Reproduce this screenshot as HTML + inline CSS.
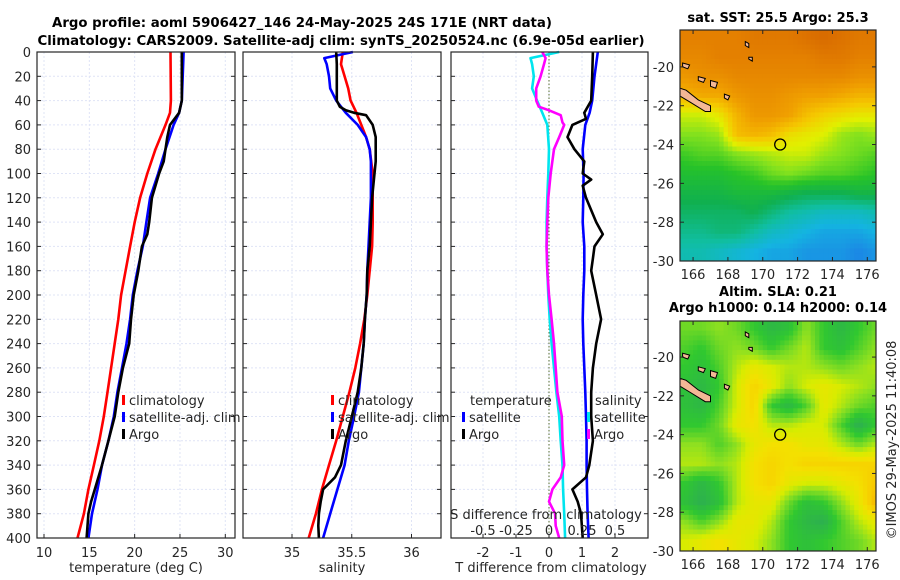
<!DOCTYPE html>
<html><head><meta charset="utf-8"><style>
body{margin:0;background:#fff;}
svg{display:block;font-family:"DejaVu Sans","Liberation Sans",sans-serif;}
</style></head><body>
<svg id="fig" width="900" height="580" viewBox="0 0 900 580" xmlns="http://www.w3.org/2000/svg">
<rect width="900" height="580" fill="#fff"/>
<text x="302" y="27" text-anchor="middle" font-size="13.3" font-weight="bold">Argo profile: aoml 5906427_146 24-May-2025 24S 171E (NRT data)</text>
<text x="341" y="45" text-anchor="middle" font-size="13.3" font-weight="bold">Climatology: CARS2009. Satellite-adj clim: synTS_20250524.nc (6.9e-05d earlier)</text>
<text x="778" y="22" text-anchor="middle" font-size="13" font-weight="bold">sat. SST: 25.5 Argo: 25.3</text>
<text x="778" y="296" text-anchor="middle" font-size="13" font-weight="bold">Altim. SLA: 0.21</text>
<text x="778" y="312" text-anchor="middle" font-size="13" font-weight="bold">Argo h1000: 0.14 h2000: 0.14</text>
<text transform="translate(896,440) rotate(-90)" text-anchor="middle" font-size="13" fill="#262626">©IMOS 29-May-2025 11:40:08</text>
<g id="g"></g>
</svg>
<script>
// ---- profile data (depth in m) ----
const depthClim=[0,40,50,60,80,100,120,140,160,180,200,220,240,260,280,300,320,340,360,380,400];
const tempClim=[23.96,24.0,23.9,23.4,22.3,21.4,20.6,20.0,19.5,19.0,18.5,18.2,17.8,17.4,17.0,16.6,16.1,15.5,14.9,14.4,13.7];
const depthSat=[0,40,50,60,80,100,120,140,160,180,200,220,240,260,280,300,320,340,360,380,400];
const tempSat=[25.4,25.2,24.9,24.3,23.4,22.6,21.7,21.3,20.9,20.3,19.8,19.5,19.1,18.6,18.1,17.7,17.1,16.4,15.9,15.3,14.9];
const depthArgo=[0,40,50,60,70,80,90,100,120,140,150,160,180,200,220,240,260,280,300,320,340,360,370,380,400];
const tempArgo=[25.2,25.2,24.9,23.9,23.6,23.4,23.2,22.7,21.9,21.6,21.4,20.8,20.4,19.9,19.6,19.4,18.7,18.2,17.8,17.1,16.4,15.6,15.2,14.9,14.7];
const depthSC=[0,10,20,30,40,50,60,70,80,100,120,140,160,180,200,220,240,260,280,300,320,340,360,380,400];
const salClim=[35.425,35.41,35.44,35.47,35.49,35.54,35.58,35.62,35.65,35.675,35.675,35.675,35.67,35.65,35.63,35.605,35.57,35.53,35.48,35.425,35.37,35.31,35.25,35.2,35.14];
const depthSS=[0,5,10,20,30,40,50,60,70,80,90,100,120,140,160,180,200,220,240,260,280,300,320,340,360,380,400];
const salSat=[35.51,35.27,35.29,35.31,35.32,35.37,35.45,35.55,35.62,35.65,35.66,35.66,35.66,35.65,35.64,35.63,35.625,35.61,35.6,35.58,35.56,35.52,35.475,35.44,35.38,35.32,35.26];
const depthSA=[0,10,40,45,48,50,52,60,70,80,90,100,120,140,160,180,200,220,240,260,280,300,320,340,350,360,370,380,390,400];
const salArgo=[35.37,35.375,35.375,35.4,35.45,35.52,35.62,35.675,35.7,35.7,35.7,35.69,35.67,35.66,35.65,35.63,35.625,35.61,35.6,35.58,35.55,35.5,35.45,35.41,35.36,35.26,35.24,35.225,35.22,35.225];
const depthD=[0,20,40,50,55,60,70,80,90,100,105,110,120,140,150,160,170,180,200,220,240,260,280,300,320,340,350,360,370,380,400];
const tdiffArgo=[1.33,1.31,1.28,1.07,1.12,0.71,0.56,0.77,1.07,1.02,1.28,1.02,1.12,1.43,1.63,1.38,1.33,1.28,1.43,1.58,1.43,1.33,1.28,1.28,1.33,1.22,1.12,0.71,0.87,0.97,1.02];
const depthTS=[0,20,40,50,60,80,100,120,140,160,180,200,220,240,260,280,300,320,340,360,380,400];
const tdiffSat=[1.48,1.38,1.31,1.23,1.1,1.02,1.05,1.04,1.02,1.07,1.07,1.04,1.02,1.04,1.07,1.1,1.12,1.14,1.14,1.15,1.17,1.2];
const depthSDS=[0,5,10,20,30,40,50,60,80,100,120,140,160,180,200,220,240,260,280,300,320,340,360,380,400];
const sdiffSat=[0.077,-0.14,-0.128,-0.115,-0.128,-0.09,-0.051,-0.013,0,-0.005,-0.013,-0.018,-0.018,-0.013,-0.005,0.005,0.02,0.038,0.056,0.077,0.089,0.102,0.107,0.115,0.122];
const depthSDA=[0,5,10,20,30,40,45,48,52,58,60,70,80,100,120,140,160,180,200,220,240,260,280,300,320,340,350,360,370,380,390,400];
const sdiffArgo=[-0.051,-0.026,-0.038,-0.064,-0.097,-0.097,-0.077,0,0.089,0.102,0.115,0.077,0.038,0.013,-0.005,-0.013,-0.018,-0.013,0,0.02,0.038,0.051,0.064,0.097,0.102,0.115,0.089,0.026,0,0.046,0.051,0.077];
// ---- map data: rows lat -18.5..-29.5, cols lon 165.5..176.5 ----
const mapLons=[165.5,166.5,167.5,168.5,169.5,170.5,171.5,172.5,173.5,174.5,175.5,176.5];
const mapLats=[-18.5,-19.5,-20.5,-21.5,-22.5,-23.5,-24.5,-25.5,-26.5,-27.5,-28.5,-29.5];
const sstGrid=[
[26.6,26.6,26.6,26.6,26.7,26.7,26.7,26.8,26.9,26.8,26.7,26.7],
[26.5,26.5,26.6,26.6,26.6,26.6,26.6,26.6,26.7,26.7,26.6,26.6],
[26.3,26.4,26.4,26.5,26.5,26.5,26.5,26.5,26.5,26.5,26.4,26.4],
[26.0,26.1,26.1,26.3,26.4,26.4,26.3,26.2,26.2,26.1,26.0,26.0],
[25.3,25.3,25.5,26.0,26.3,26.3,26.2,25.9,25.7,25.6,25.5,25.5],
[25.0,25.0,25.1,25.9,26.0,25.9,25.6,25.5,25.4,25.1,25.0,25.1],
[24.7,24.8,24.8,25.0,25.1,25.2,25.3,25.3,25.1,25.0,24.9,24.8],
[24.5,24.5,24.5,24.6,24.7,24.9,25.0,24.9,24.8,24.8,24.7,24.6],
[24.3,24.3,24.3,24.4,24.4,24.4,24.3,24.2,24.2,24.2,24.3,24.3],
[24.1,24.1,24.1,24.1,24.2,24.0,23.8,23.7,23.6,23.6,23.6,23.7],
[23.9,23.9,24.0,24.0,23.8,23.6,23.5,23.4,23.3,23.3,23.3,23.4],
[23.7,23.7,23.6,23.5,23.4,23.3,23.3,23.2,23.2,23.2,23.1,23.2]];
const slaGrid=[
[0.4,0.4,0.45,0.4,0.3,0.2,0.25,0.45,0.3,0.2,0.3,0.4],
[0.35,0.3,0.4,0.45,0.4,0.3,0.4,0.5,0.3,0.25,0.35,0.45],
[0.3,0.25,0.35,0.5,0.6,0.55,0.5,0.5,0.45,0.4,0.45,0.5],
[0.25,0.2,0.3,0.55,0.7,0.6,0.45,0.55,0.6,0.55,0.5,0.45],
[0.25,0.2,0.35,0.55,0.7,0.3,0.2,0.35,0.6,0.5,0.4,0.35],
[0.3,0.3,0.4,0.6,0.65,0.5,0.5,0.55,0.55,0.35,0.15,0.3],
[0.45,0.45,0.35,0.45,0.6,0.65,0.65,0.6,0.6,0.5,0.4,0.5],
[0.5,0.5,0.45,0.5,0.65,0.7,0.65,0.7,0.7,0.7,0.7,0.7],
[0.3,0.2,0.3,0.5,0.65,0.7,0.6,0.55,0.55,0.6,0.65,0.75],
[0.25,0.15,0.25,0.5,0.6,0.6,0.4,0.25,0.3,0.45,0.6,0.8],
[0.45,0.35,0.45,0.6,0.6,0.5,0.3,0.2,0.15,0.35,0.5,0.6],
[0.55,0.6,0.65,0.6,0.55,0.45,0.3,0.25,0.3,0.35,0.4,0.5]];
const depthTicks=[0,20,40,60,80,100,120,140,160,180,200,220,240,260,280,300,320,340,360,380,400];
const tempTicks=[10,15,20,25,30];
const salTicks=[35,35.5,36];
const tdTicks=[-2,-1,0,1,2];
const sdTicks=[-0.5,-0.25,0,0.25,0.5];
const sdTickLabels=["-0.5","-0.25","0","0.25","0.5"];
const lonTicks=[166,168,170,172,174,176];
const latTicks=[-20,-22,-24,-26,-28,-30];

const NS="http://www.w3.org/2000/svg";
const G=document.getElementById('g');
function mk(tag,attrs,parent){const e=document.createElementNS(NS,tag);for(const k in attrs)e.setAttribute(k,attrs[k]);(parent||G).appendChild(e);return e;}
const Y0=52,Y1=538;
const yD=d=>Y0+(d/400)*(Y1-Y0);
const xT=t=>44+(t-10)*(225.3-44)/20;
const xS=s=>292+(s-35)*119.5;
const xTD=v=>549+v*33;
const xSD=v=>549+v*4*33;
const panels=[{x0:37,x1:235,name:'temperature-panel'},{x0:243,x1:441,name:'salinity-panel'},{x0:451,x1:648,name:'difference-panel'}];
const GRIDC='#dfe4f6';
function grid(p,xs,fn){
  xs.forEach(v=>{const l=mk('line',{x1:fn(v),x2:fn(v),y1:Y0,y2:Y1,stroke:GRIDC,'stroke-width':1,'stroke-dasharray':'2,2'});
  
  });
  depthTicks.forEach(d=>{const l=mk('line',{x1:p.x0,x2:p.x1,y1:yD(d),y2:yD(d),stroke:GRIDC,'stroke-width':1,'stroke-dasharray':'2,2'});
  
  
  mk('line',{x1:p.x0,x2:p.x0+4,y1:yD(d),y2:yD(d),stroke:'#262626'});
  mk('line',{x1:p.x1-4,x2:p.x1,y1:yD(d),y2:yD(d),stroke:'#262626'});});
}
function box(p){const r=mk('rect',{x:p.x0,y:Y0,width:p.x1-p.x0,height:Y1-Y0,fill:'none',stroke:'#262626','stroke-width':1.2});
  
  }
function line(ds,vs,fx,color,name){
  const pts=ds.map((d,i)=>fx(vs[i]).toFixed(1)+','+yD(d).toFixed(1)).join(' ');
  const e=mk('polyline',{points:pts,fill:'none',stroke:color,'stroke-width':2.6,'stroke-linejoin':'round'});
  
  }
function txt(x,y,s,attrs,name){const e=mk('text',Object.assign({x:x,y:y,'font-size':13,fill:'#262626'},attrs||{}));e.textContent=s;
  
  return e;}

// panel 1
grid(panels[0],tempTicks,xT);
depthTicks.forEach(d=>txt(31,yD(d)+5,String(d),{'text-anchor':'end'},'depth-tick-label'));
tempTicks.forEach(t=>{txt(xT(t),557,String(t),{'text-anchor':'middle'},'temperature-tick-label');mk('line',{x1:xT(t),x2:xT(t),y1:Y1,y2:Y1-4,stroke:'#262626'});});
txt(136,572,'temperature (deg C)',{'text-anchor':'middle'},'temperature-axis-title');
line(depthClim,tempClim,xT,'#ff0000','temp-climatology-line');
line(depthSat,tempSat,xT,'#0000ff','temp-satellite-line');
line(depthArgo,tempArgo,xT,'#000000','temp-argo-line');
box(panels[0]);
// panel 2
grid(panels[1],salTicks,xS);
salTicks.forEach(t=>{txt(xS(t),557,String(t),{'text-anchor':'middle'},'salinity-tick-label');mk('line',{x1:xS(t),x2:xS(t),y1:Y1,y2:Y1-4,stroke:'#262626'});});
txt(342,572,'salinity',{'text-anchor':'middle'},'salinity-axis-title');
line(depthSC,salClim,xS,'#ff0000','sal-climatology-line');
line(depthSS,salSat,xS,'#0000ff','sal-satellite-line');
line(depthSA,salArgo,xS,'#000000','sal-argo-line');
box(panels[1]);
// panel 3
grid(panels[2],tdTicks,xTD);
mk('line',{x1:549,x2:549,y1:Y0,y2:Y1,stroke:'#556b2f','stroke-width':1,'stroke-dasharray':'1.5,2'});
tdTicks.forEach(t=>{txt(xTD(t),557,String(t),{'text-anchor':'middle'},'tdiff-tick-label');mk('line',{x1:xTD(t),x2:xTD(t),y1:Y1,y2:Y1-4,stroke:'#262626'});});
txt(551,572,'T difference from climatology',{'text-anchor':'middle'},'tdiff-axis-title');
line(depthSDS,sdiffSat,xSD,'#00e5ee','sdiff-satellite-line');
line(depthSDA,sdiffArgo,xSD,'#ff00ff','sdiff-argo-line');
line(depthTS,tdiffSat,xTD,'#0000ff','tdiff-satellite-line');
line(depthD,tdiffArgo,xTD,'#000000','tdiff-argo-line');
txt(546,519,'S difference from climatology',{'text-anchor':'middle'},'sdiff-axis-title');
sdTicks.forEach((t,i)=>txt(xSD(t),535,sdTickLabels[i],{'text-anchor':'middle'},'sdiff-tick-label'));
box(panels[2]);

// legends
function legend(x,y,color,label,name){
  const r=mk('rect',{x:x,y:y-10,width:3,height:10,fill:color});
  
  
  txt(x+7,y,label,{},name);}
legend(122,405,'#ff0000','climatology','legend-climatology');
legend(122,422,'#0000ff','satellite-adj. clim','legend-satellite-adj');
legend(122,439,'#000000','Argo','legend-argo');
legend(331,405,'#ff0000','climatology','legend2-climatology');
legend(331,422,'#0000ff','satellite-adj. clim','legend2-satellite-adj');
legend(331,439,'#000000','Argo','legend2-argo');
txt(470,405,'temperature',{},'legend-temperature-header');
legend(462,422,'#0000ff','satellite','legend-t-satellite');
legend(462,439,'#000000','Argo','legend-t-argo');
txt(595,405,'salinity',{},'legend-salinity-header');
legend(587,422,'#00e5ee','satellite','legend-s-satellite');
legend(587,439,'#ff00ff','Argo','legend-s-argo');

// maps
const sstStops=[[23.0,[30,120,230]],[23.4,[20,180,225]],[23.8,[16,190,160]],[24.2,[16,176,80]],[24.6,[40,195,40]],[25.0,[130,225,30]],[25.4,[225,240,0]],[25.8,[245,200,0]],[26.2,[240,160,0]],[26.6,[228,128,0]],[27.0,[212,100,0]]];
const slaStops=[[0.1,[44,168,90]],[0.3,[48,200,48]],[0.45,[142,224,32]],[0.55,[216,236,0]],[0.65,[244,224,0]],[0.75,[248,200,0]],[0.85,[244,160,0]]];
function cmap(stops,v){if(v<=stops[0][0])return stops[0][1];for(let i=1;i<stops.length;i++){if(v<=stops[i][0]){const a=stops[i-1],b=stops[i],f=(v-a[0])/(b[0]-a[0]);return a[1].map((c,j)=>Math.round(c+(b[1][j]-c)*f));}}return stops[stops.length-1][1];}
function sample(gridv,la,lo){
  let fi=(mapLats[0]-la),fj=(lo-mapLons[0]);
  fi=Math.max(0,Math.min(mapLats.length-1,fi));fj=Math.max(0,Math.min(mapLons.length-1,fj));
  const i0=Math.floor(fi),j0=Math.floor(fj),i1=Math.min(i0+1,mapLats.length-1),j1=Math.min(j0+1,mapLons.length-1);
  const a=fi-i0,b=fj-j0;
  return gridv[i0][j0]*(1-a)*(1-b)+gridv[i0][j1]*(1-a)*b+gridv[i1][j0]*a*(1-b)+gridv[i1][j1]*a*b;}
function drawMap(top,bottom,latTop,gridv,stops,name){
  const L=680,R=876,lon0=165.25,lon1=176.5;
  const mx=lo=>L+(lo-lon0)*(R-L)/(lon1-lon0);
  const pxPerLat=(bottom-top)/(latTop+30);
  const my=la=>top+(latTop-la)*pxPerLat;
  const cp=mk('clipPath',{id:name+'-clip'});mk('rect',{x:L,y:top,width:R-L,height:bottom-top},cp);
  const g=mk('g',{'clip-path':'url(#'+name+'-clip)'});
  
  
  const sub=0.25;
  for(let la=latTop;la>-30;la-=sub){for(let lo=lon0;lo<lon1;lo+=sub){
    const c=cmap(stops,sample(gridv,la-sub/2,lo+sub/2));
    const r=mk('rect',{x:mx(lo).toFixed(1),y:my(la).toFixed(1),width:(sub*(R-L)/(lon1-lon0)+0.6).toFixed(1),height:(sub*pxPerLat+0.6).toFixed(1),fill:'rgb('+c.join(',')+')'},g);
    
    }}
  // islands
  const isl=[[[165.25,-21.1],[165.6,-21.2],[166.3,-21.7],[167.0,-22.0],[167.0,-22.3],[166.7,-22.3],[165.8,-21.8],[165.25,-21.5]],
    [[167.0,-20.7],[167.4,-20.8],[167.3,-21.1],[167.0,-21.0]],[[167.8,-21.4],[168.1,-21.5],[168.0,-21.7],[167.8,-21.6]],
    [[169.0,-18.7],[169.2,-18.8],[169.2,-19.0],[169.0,-18.9]],[[169.2,-19.5],[169.4,-19.5],[169.4,-19.7],[169.2,-19.6]],
    [[165.4,-19.8],[165.8,-19.9],[165.7,-20.1],[165.4,-20.0]],[[166.3,-20.5],[166.7,-20.6],[166.6,-20.8],[166.3,-20.7]]];
  isl.forEach(poly=>{const e=mk('polygon',{points:poly.map(p=>mx(p[0]).toFixed(1)+','+my(p[1]).toFixed(1)).join(' '),fill:'#f4b896',stroke:'#000','stroke-width':1},g);
    
    });
  const c=mk('circle',{cx:mx(171),cy:my(-24),r:5.5,fill:'none',stroke:'#000','stroke-width':1.3});
  
  
  const fr=mk('rect',{x:L,y:top,width:R-L,height:bottom-top,fill:'none',stroke:'#262626','stroke-width':1.2});
  
  
  lonTicks.forEach(lo=>{txt(mx(lo),bottom+18,String(lo),{'text-anchor':'middle'},'lon-tick-label');
    mk('line',{x1:mx(lo),x2:mx(lo),y1:bottom,y2:bottom-4,stroke:'#262626'});mk('line',{x1:mx(lo),x2:mx(lo),y1:top,y2:top+4,stroke:'#262626'});});
  latTicks.forEach(la=>{txt(L-6,my(la)+5,String(la),{'text-anchor':'end'},'lat-tick-label');
    mk('line',{x1:L,x2:L+4,y1:my(la),y2:my(la),stroke:'#262626'});mk('line',{x1:R-4,x2:R,y1:my(la),y2:my(la),stroke:'#262626'});});
}
drawMap(30,261,-18.1,sstGrid,sstStops,'sst-map');
drawMap(321,551,-18.14,slaGrid,slaStops,'sla-map');
</script>
</body></html>
